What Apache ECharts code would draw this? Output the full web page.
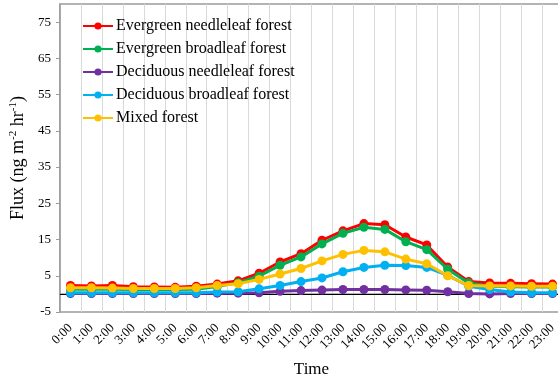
<!DOCTYPE html>
<html>
<head>
<meta charset="utf-8">
<script src="https://cdn.jsdelivr.net/npm/echarts@6/dist/echarts.min.js"></script>
<style>
html,body{margin:0;padding:0;background:#fff;}
#chart{width:558px;height:381px;}
</style>
</head>
<body>
<div id="chart"></div>
<script>
var times = ['0:00','1:00','2:00','3:00','4:00','5:00','6:00','7:00','8:00','9:00','10:00','11:00','12:00','13:00','14:00','15:00','16:00','17:00','18:00','19:00','20:00','21:00','22:00','23:00'];
var seriesNames = ['Evergreen needleleaf forest','Evergreen broadleaf forest','Deciduous needleleaf forest','Deciduous broadleaf forest','Mixed forest'];
var evergreenNeedle = [2.3,2.2,2.3,2.0,1.9,1.8,2.1,2.7,3.6,5.7,8.8,11.1,14.8,17.4,19.4,19.1,15.7,13.5,7.4,3.4,3.0,2.9,2.8,2.7];
var evergreenBroad = [1.3,1.3,1.3,1.2,1.2,1.2,1.3,2.0,3.1,4.9,7.9,10.2,13.8,16.7,18.4,17.8,14.4,12.2,6.8,3.0,2.1,2.0,1.9,1.9];
var deciduousNeedle = [0.1,0.1,0.1,0.1,0.1,0.1,0.1,0.2,0.2,0.3,0.7,0.9,1.05,1.2,1.2,1.2,1.1,1.0,0.6,0.1,0.0,0.1,0.1,0.1];
var deciduousBroad = [0.3,0.3,0.3,0.3,0.3,0.3,0.3,0.5,0.6,1.4,2.3,3.4,4.4,6.1,7.3,7.9,7.8,7.3,5.1,2.1,1.2,0.5,0.3,0.3];
var mixedForest = [1.7,1.7,1.6,1.5,1.5,1.5,1.7,2.3,2.8,4.0,5.5,7.0,9.1,10.9,12.0,11.6,9.6,8.3,5.0,2.3,2.2,2.2,2.1,2.1];
var yTickValues = [-5,5,15,25,35,45,55,65,75];
var colors = ['#FF0000','#00B050','#7030A0','#00B0F0','#FFC000'];

var FONT = "'Liberation Serif','Times New Roman',serif";
var allData = [evergreenNeedle, evergreenBroad, deciduousNeedle, deciduousBroad, mixedForest];

var series = allData.map(function(d, i){
  var s = {
    name: seriesNames[i],
    type: 'line',
    data: d,
    symbol: 'circle',
    symbolSize: 9,
    lineStyle: {width: 3, color: colors[i]},
    itemStyle: {color: colors[i]},
    z: 3 + i,
    animation: false
  };
  if (i === 0) {
    s.markLine = {
      silent: true,
      symbol: 'none',
      label: {show: false},
      lineStyle: {color: '#000', width: 1, type: 'solid'},
      data: [{yAxis: 0}],
      z: 1
    };
  }
  return s;
});

var chart = echarts.init(document.getElementById('chart'));
chart.setOption({
  animation: false,
  color: colors,
  textStyle: {fontFamily: FONT, color: '#000'},
  grid: {
    left: 60, right: -5, top: 4, bottom: 69,
    containLabel: false,
    outerBoundsMode: 'none',
    show: true, borderColor: '#9a9a9a', borderWidth: 1.5, backgroundColor: 'transparent'
  },
  legend: {
    orient: 'vertical',
    left: 77, top: 13,
    itemWidth: 30, itemHeight: 9, itemGap: 7,
    textStyle: {fontFamily: FONT, fontSize: 16, color: '#000', padding: [0,0,0,-2]},
    data: seriesNames
  },
  xAxis: {
    type: 'category',
    data: times,
    boundaryGap: true,
    name: 'Time',
    nameLocation: 'middle',
    nameGap: 49,
    nameTextStyle: {fontFamily: FONT, fontSize: 17, color: '#000'},
    axisLine: {show: true, lineStyle: {color: '#9a9a9a', width: 1.5}},
    axisTick: {show: false},
    axisLabel: {rotate: 45, fontFamily: FONT, fontSize: 13, color: '#000', margin: 14, interval: 0},
    splitLine: {show: true, interval: 0, lineStyle: {color: '#d9d9d9', width: 1}}
  },
  yAxis: {
    type: 'value',
    min: -5, max: 80,
    name: '{a|Flux (ng m}{s|-2}{a| hr}{s|-1}{a|)}',
    nameLocation: 'middle',
    nameGap: 14,
    nameRotate: 90,
    nameTextStyle: {
      fontFamily: FONT, color: '#000',
      rich: {
        a: {fontFamily: FONT, fontSize: 18, color: '#000', lineHeight: 21},
        s: {fontFamily: FONT, fontSize: 11, color: '#000', lineHeight: 21, verticalAlign: 'top', padding: [0,0,8,0]}
      }
    },
    axisLine: {show: true, lineStyle: {color: '#9a9a9a', width: 1.5}},
    axisTick: {show: true, length: 4, customValues: yTickValues, lineStyle: {color: '#9a9a9a'}},
    axisLabel: {customValues: yTickValues, fontFamily: FONT, fontSize: 13, color: '#000', margin: 9},
    splitLine: {show: false}
  },
  series: series
});
</script>
</body>
</html>
